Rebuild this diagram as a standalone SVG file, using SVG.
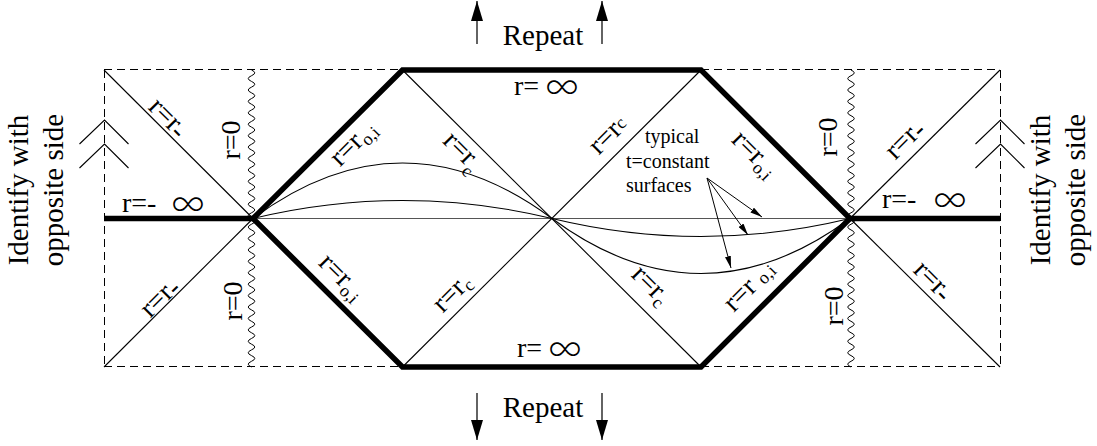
<svg xmlns="http://www.w3.org/2000/svg" xmlns:xlink="http://www.w3.org/1999/xlink" width="1097" height="446" viewBox="0 0 1097 446">
<style>
text{font-family:"Liberation Serif","Times New Roman",serif;fill:#000}
.lbl{font-size:28px}
.big{font-size:29px}
.small{font-size:20px}
.sub{font-size:18px}
.inf{font-family:Inter,"Noto Sans",sans-serif;font-weight:200;font-size:38px}
.dash{fill:none;stroke:#000;stroke-width:1;stroke-dasharray:8 5}
.thin{fill:none;stroke:#000;stroke-width:1.1}
.thick{fill:none;stroke:#000;stroke-width:5.5;stroke-linejoin:miter}
.wave{fill:none;stroke:#000;stroke-width:1}
.arr{fill:none;stroke:#222;stroke-width:1.4}
.tarr{fill:none;stroke:#000;stroke-width:1}
</style>
<defs>
<marker id="bighead" markerWidth="20" markerHeight="12" refX="20" refY="6" orient="auto" markerUnits="userSpaceOnUse"><path d="M0,0 L20,6 L0,12 Z" fill="#000"/></marker>
<marker id="smallhead" markerWidth="12" markerHeight="6" refX="12" refY="3" orient="auto" markerUnits="userSpaceOnUse"><path d="M0,0 L12,3 L0,6 Z" fill="#000"/></marker>
<path id="wavy" class="wave" d="M0,70 q6.5,2.856 0,5.712 t0,5.712 t0,5.712 t0,5.712 t0,5.712 t0,5.712 t0,5.712 t0,5.712 t0,5.712 t0,5.712 t0,5.712 t0,5.712 t0,5.712 t0,5.712 t0,5.712 t0,5.712 t0,5.712 t0,5.712 t0,5.712 t0,5.712 t0,5.712 t0,5.712 t0,5.712 t0,5.712 t0,5.712 t0,5.712 t0,5.712 t0,5.712 t0,5.712 t0,5.712 t0,5.712 t0,5.712 t0,5.712 t0,5.712 t0,5.712 t0,5.712 t0,5.712 t0,5.712 t0,5.712 t0,5.712 t0,5.712 t0,5.712 t0,5.712 t0,5.712 t0,5.712 t0,5.712 t0,5.712 t0,5.712 t0,5.712 t0,5.712 t0,5.712 t0,5.712"/>
<g id="chev"><polyline class="thin" stroke-width="1.3" points="-25,144 0,120 24,144"/><polyline class="thin" stroke-width="1.3" points="-25,168 0,144 24,168"/></g>
</defs>

<g id="frame">
<line class="dash" x1="104" y1="69.5" x2="402.5" y2="69.5"/>
<line class="dash" x1="701" y1="69.5" x2="1000" y2="69.5"/>
<line class="dash" x1="104" y1="366.5" x2="402.5" y2="366.5"/>
<line class="dash" x1="701" y1="366.5" x2="1000" y2="366.5"/>
<line class="dash" x1="104.5" y1="70" x2="104.5" y2="367"/>
<line class="dash" x1="1000.5" y1="70" x2="1000.5" y2="367"/>
<use xlink:href="#chev" transform="translate(104.5,0)"/>
<use xlink:href="#chev" transform="translate(1000.5,0)"/>
</g>

<g id="singularities">
<use xlink:href="#wavy" transform="translate(251.5,0)"/>
<use xlink:href="#wavy" transform="translate(851,0)"/>
</g>

<g id="connectors">
<line class="thin" x1="104" y1="70" x2="253" y2="218.5"/>
<line class="thin" x1="104" y1="367" x2="253" y2="218.5"/>
<line class="thin" x1="1000" y1="70" x2="850" y2="218.5"/>
<line class="thin" x1="1000" y1="367" x2="850" y2="218.5"/>
<line class="thin" x1="402.5" y1="70" x2="701" y2="367"/>
<line class="thin" x1="701" y1="70" x2="402.5" y2="367"/>
<line x1="253" y1="218.5" x2="850" y2="218.5" stroke="#555" stroke-width="1.2"/>
<path class="thin" d="M253,218.5 Q402.5,107.5 552,218.5"/>
<path class="thin" d="M253,218.5 Q402.5,182.5 552,218.5"/>
<path class="thin" d="M552,218.5 Q701,328.5 850,218.5"/>
<path class="thin" d="M552,218.5 Q701,254.5 850,218.5"/>
<polygon class="thick" points="253,218.5 402.5,70 701,70 850,218.5 701,367 402.5,367"/>
<line class="thick" x1="104" y1="218.5" x2="253" y2="218.5"/>
<line class="thick" x1="850" y1="218.5" x2="1000" y2="218.5"/>
<line class="tarr" x1="707" y1="178" x2="762" y2="217" marker-end="url(#smallhead)"/>
<line class="tarr" x1="707" y1="178" x2="748" y2="235" marker-end="url(#smallhead)"/>
<line class="tarr" x1="707" y1="178" x2="731" y2="268" marker-end="url(#smallhead)"/>
<line class="arr" x1="477" y1="44" x2="477" y2="1" marker-end="url(#bighead)"/>
<line class="arr" x1="602" y1="44" x2="602" y2="1" marker-end="url(#bighead)"/>
<line class="arr" x1="477" y1="393" x2="477" y2="440" marker-end="url(#bighead)"/>
<line class="arr" x1="602" y1="393" x2="602" y2="440" marker-end="url(#bighead)"/>
</g>

<g id="labels">
<text class="big" x="543" y="45" text-anchor="middle">Repeat</text>
<text class="big" x="543" y="417" text-anchor="middle">Repeat</text>
<text class="big" transform="translate(28,190) rotate(-90)" text-anchor="middle">Identify with</text>
<text class="big" transform="translate(63,190) rotate(-90)" text-anchor="middle">opposite side</text>
<text class="big" transform="translate(1050,190) rotate(-90)" text-anchor="middle">Identify with</text>
<text class="big" transform="translate(1085,190) rotate(-90)" text-anchor="middle">opposite side</text>

<text class="lbl" x="514" y="95">r=</text>
<text class="inf" x="545" y="99" textLength="34" lengthAdjust="spacingAndGlyphs">∞</text>
<text class="lbl" x="517" y="357">r=</text>
<text class="inf" x="548" y="361" textLength="34" lengthAdjust="spacingAndGlyphs">∞</text>
<text class="lbl" x="122" y="212">r=-</text>
<text class="inf" x="171" y="216" textLength="34" lengthAdjust="spacingAndGlyphs">∞</text>
<text class="lbl" x="882" y="208">r=-</text>
<text class="inf" x="933" y="212" textLength="34" lengthAdjust="spacingAndGlyphs">∞</text>

<text class="lbl" transform="translate(240,140) rotate(-90)" text-anchor="middle">r=0</text>
<text class="lbl" transform="translate(242,301) rotate(-90)" text-anchor="middle">r=0</text>
<text class="lbl" transform="translate(837,137) rotate(-90)" text-anchor="middle">r=0</text>
<text class="lbl" transform="translate(843,306) rotate(-90)" text-anchor="middle">r=0</text>

<text class="lbl" transform="translate(166,120) rotate(45)" y="5" text-anchor="middle">r=r<tspan dy="3">-</tspan></text>
<text class="lbl" transform="translate(162,300) rotate(-45)" y="5" text-anchor="middle">r=r<tspan dy="3">-</tspan></text>
<text class="lbl" transform="translate(907,142) rotate(-45)" y="5" text-anchor="middle">r=r<tspan dy="3">-</tspan></text>
<text class="lbl" transform="translate(931,283) rotate(45)" y="5" text-anchor="middle">r=r<tspan dy="3">-</tspan></text>

<text class="lbl" transform="translate(356,146) rotate(-45)" y="4" text-anchor="middle">r=r<tspan class="sub" dy="5">o,i</tspan></text>
<text class="lbl" transform="translate(339,280) rotate(45)" y="4" text-anchor="middle">r=r<tspan class="sub" dy="5">o,i</tspan></text>
<text class="lbl" transform="translate(752,157) rotate(45)" y="4" text-anchor="middle">r=r<tspan class="sub" dy="5">o,i</tspan></text>
<text class="lbl" transform="translate(752,289) rotate(-45)" y="4" text-anchor="middle">r=r <tspan class="sub" dy="2">o,i</tspan></text>

<text class="lbl" transform="translate(459,155) rotate(45)" y="3" text-anchor="middle">r=r<tspan class="sub" dy="8">c</tspan></text>
<text class="lbl" transform="translate(611,138) rotate(-45)" y="4" text-anchor="middle">r=r<tspan class="sub" dy="-2">c</tspan></text>
<text class="lbl" transform="translate(455,296) rotate(-45)" y="4" text-anchor="middle">r=r<tspan class="sub" dy="4">c</tspan></text>
<text class="lbl" transform="translate(648,288) rotate(45)" y="4" text-anchor="middle">r=r<tspan class="sub" dy="5">c</tspan></text>

<text class="small" x="645" y="143">typical</text>
<text class="small" x="626" y="168">t=constant</text>
<text class="small" x="626" y="192">surfaces</text>
</g>
</svg>
